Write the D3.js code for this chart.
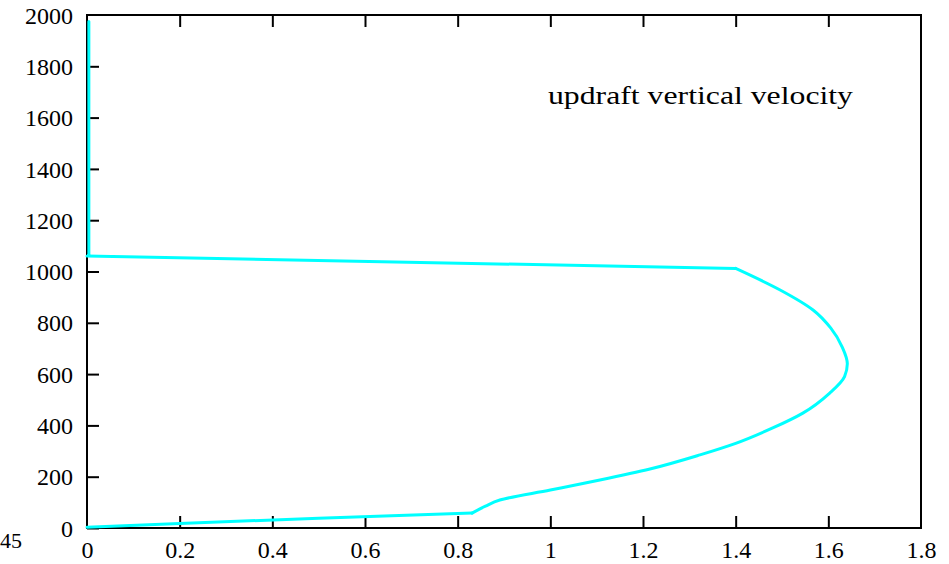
<!DOCTYPE html>
<html><head><meta charset="utf-8">
<script src="https://cdn.jsdelivr.net/npm/d3@7"></script>
<style>
html,body{margin:0;padding:0;background:#fff;}
svg{display:block;}
text{font-family:"Liberation Serif","DejaVu Serif",serif;fill:#000;}
</style></head>
<body>
<svg id="c" width="949" height="564"></svg>
<script>
// Data: updraft vertical velocity (x) vs height (y)
const velocity = [0.004, 0.004, 0.0, 1.4, 1.496, 1.567, 1.605, 1.63, 1.641, 1.635, 1.603, 1.545, 1.48, 1.4, 1.323, 1.215, 1.107, 1.0, 0.891, 0.86, 0.831, 0.5, 0.2, 0.0];
const height   = [1975, 1062, 1060, 1012, 928, 850, 780, 705, 640, 590, 526, 448, 390, 330, 285, 230, 187, 148, 109, 85, 58, 38, 18, 3];
const xTicks = [0, 0.2, 0.4, 0.6, 0.8, 1, 1.2, 1.4, 1.6, 1.8];
const yTicks = [0, 200, 400, 600, 800, 1000, 1200, 1400, 1600, 1800, 2000];
const chartLabel = "updraft vertical velocity";
const clippedLabel = "45";

const svg = d3.select("#c");
const L = 87, R = 921, T = 15, B = 528;
const x = d3.scaleLinear().domain([0, 1.8]).range([L, R]);
const y = d3.scaleLinear().domain([0, 2000]).range([B, T]);
const tickLen = 12;

// frame
svg.append("rect").attr("x", L).attr("y", T).attr("width", R - L).attr("height", B - T)
  .attr("fill", "none").attr("stroke", "#000").attr("stroke-width", 2);

// bottom axis (ticks inward)
const xb = svg.append("g").attr("transform", `translate(0,${B})`)
  .call(d3.axisBottom(x).tickValues(xTicks).tickFormat(d => String(d)).tickSizeInner(-tickLen).tickSizeOuter(0).tickPadding(0));
xb.select(".domain").remove();
xb.selectAll("line").attr("stroke", "#000").attr("stroke-width", 2);
xb.selectAll("text").attr("y", 30).attr("dy", 0).attr("font-size", 24);

// top axis ticks
const xt = svg.append("g").attr("transform", `translate(0,${T})`)
  .call(d3.axisTop(x).tickValues(xTicks).tickFormat("").tickSizeInner(-tickLen).tickSizeOuter(0));
xt.select(".domain").remove();
xt.selectAll("line").attr("stroke", "#000").attr("stroke-width", 2);

// left axis
const yl = svg.append("g").attr("transform", `translate(${L},0)`)
  .call(d3.axisLeft(y).tickValues(yTicks).tickFormat(d => String(d)).tickSizeInner(-tickLen).tickSizeOuter(0).tickPadding(0));
yl.select(".domain").remove();
yl.selectAll("line").attr("stroke", "#000").attr("stroke-width", 2);
yl.selectAll("text").attr("x", -14).attr("dy", "0.34em").attr("font-size", 24);

// hide edge ticks that coincide with the frame
xb.selectAll(".tick line").filter(d => d === 0 || d === 1.8).remove();
xt.selectAll(".tick line").filter(d => d === 0 || d === 1.8).remove();
yl.selectAll(".tick line").filter(d => d === 2000).remove();

// profile line: straight parts linear, bulge smooth
const pts = velocity.map((v, i) => [v, height[i]]);
const lin = d3.line().x(d => x(d[0])).y(d => y(d[1]));
const smooth = d3.line().x(d => x(d[0])).y(d => y(d[1])).curve(d3.curveMonotoneY);
const iTop = 3, iBot = 20;
const style = p => p.attr("fill", "none").attr("stroke", "#00ffff").attr("stroke-width", 3)
  .attr("stroke-linejoin", "round").attr("stroke-linecap", "round");
svg.append("path").datum(pts.slice(0, iTop + 1)).attr("d", lin).call(style);
svg.append("path").datum(pts.slice(iTop, iBot + 1)).attr("d", smooth).call(style);
svg.append("path").datum(pts.slice(iBot)).attr("d", lin).call(style);

// label
svg.append("text").attr("x", 548).attr("y", 104).attr("font-size", 25)
  .attr("textLength", 305).attr("lengthAdjust", "spacingAndGlyphs").text(chartLabel);

// leftover label at far left
svg.append("text").attr("x", 0).attr("y", 548).attr("font-size", 22).text(clippedLabel);
</script>
</body></html>
